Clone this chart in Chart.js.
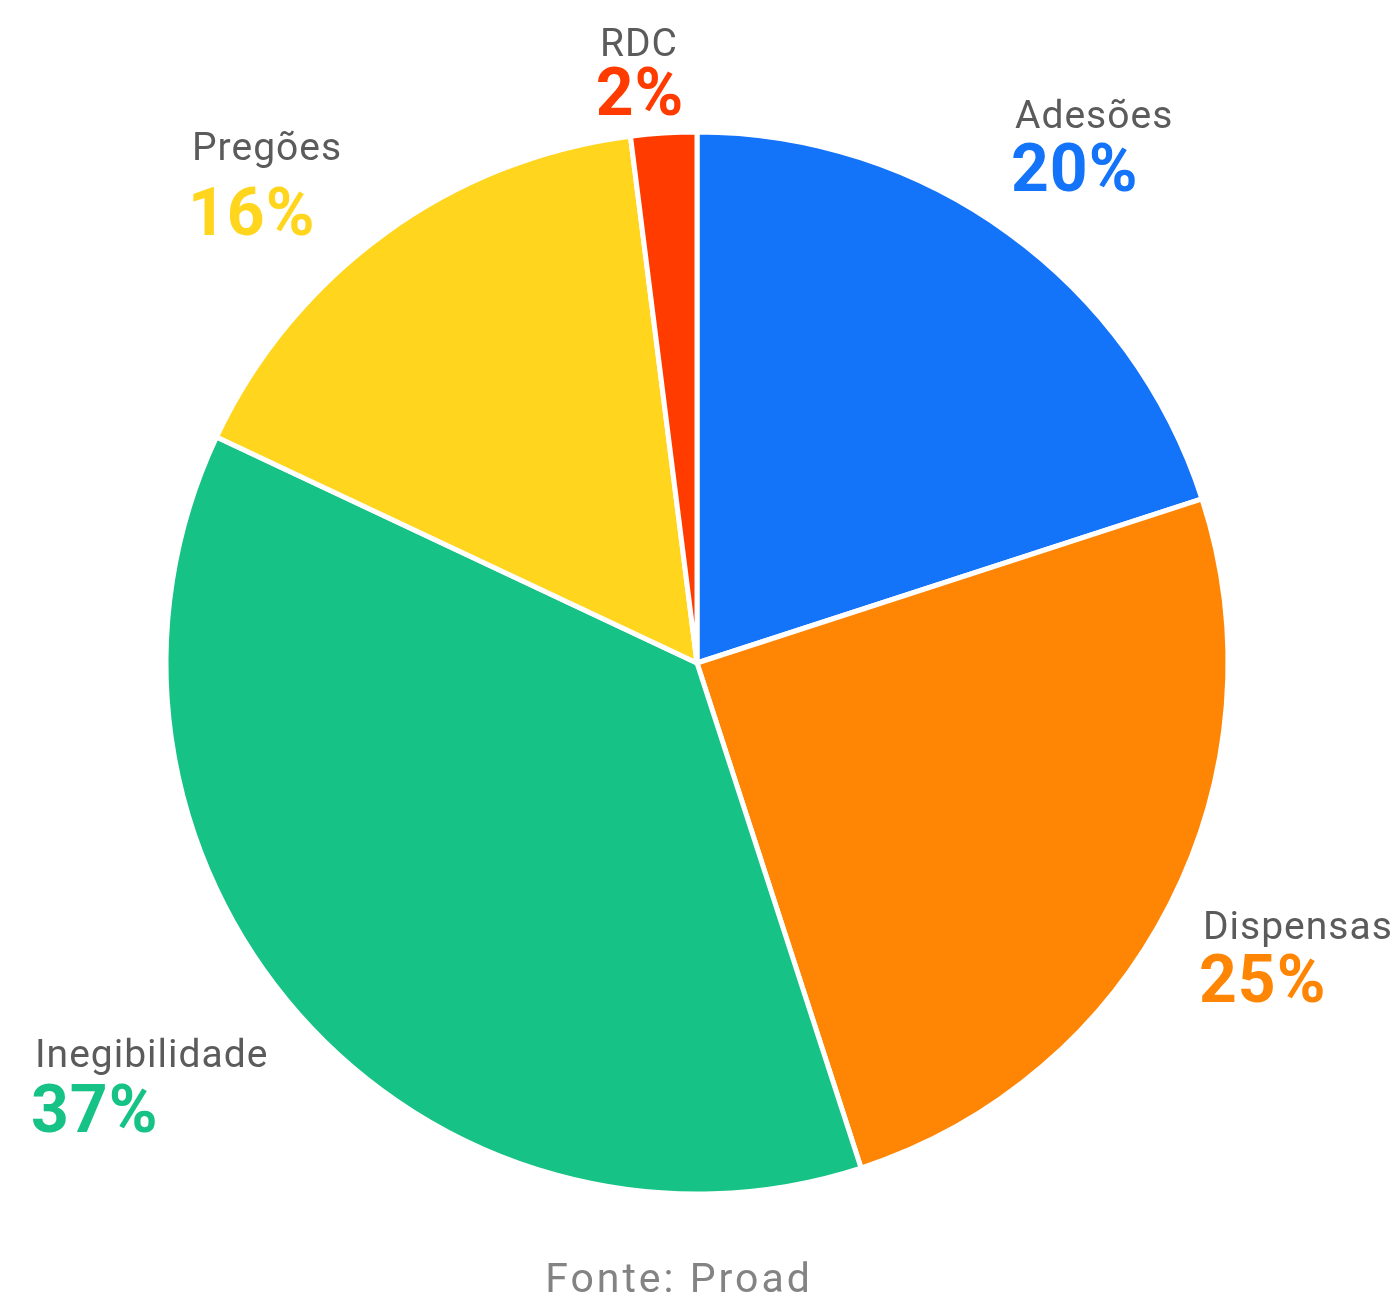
<!DOCTYPE html>
<html lang="pt-BR">
<head>
<meta charset="utf-8">
<title>Modalidades de contratação</title>
<script src="https://cdn.jsdelivr.net/npm/chart.js@4.4.1/dist/chart.umd.min.js"></script>
<style>
  html, body { margin: 0; padding: 0; background: #ffffff; }
  #wrap { position: relative; width: 1398px; height: 1297px; }
</style>
</head>
<body>
<div id="wrap"><canvas id="pieChart" width="1398" height="1297"></canvas></div>
<script>
'use strict';

// slices, clockwise from 12 o'clock
var categorias = ['Adesões', 'Dispensas', 'Inegibilidade', 'Pregões', 'RDC'];
var percentuais = [20, 25, 37, 16, 2];
var cores = ['#1373f9', '#ff8505', '#16c285', '#ffd51e', '#ff3b00'];
var fonte = 'Fonte: Proad';

// where each label block sits: x, baseline of the name, gap down to the % line
var posRotulos = [
  { x: 1015, y: 128,  gap: 63, align: 'left' },
  { x: 1203, y: 939,  gap: 63, align: 'left' },
  { x: 35,   y: 1067, gap: 65, align: 'left' },
  { x: 192,  y: 160,  gap: 75, align: 'left' },
  { x: 639,  y: 56,   gap: 59, align: 'center' }
];

var rotulosPlugin = {
  id: 'rotulos',
  afterDatasetsDraw: function (chart) {
    var ctx = chart.ctx;
    var temEspaco = 'letterSpacing' in ctx;
    ctx.save();
    ctx.textBaseline = 'alphabetic';
    chart.data.labels.forEach(function (nome, i) {
      var p = posRotulos[i];
      ctx.textAlign = p.align;
      ctx.fillStyle = '#5b5b5b';
      ctx.font = '39px Roboto';
      if (temEspaco) ctx.letterSpacing = '1px';
      ctx.fillText(nome, p.x, p.y);
      ctx.fillStyle = cores[i];
      ctx.font = 'bold 66px Roboto';
      ctx.fillText(chart.data.datasets[0].data[i] + '%', p.x + (p.align === 'left' ? -4 : 1), p.y + p.gap);
    });

    // source line
    ctx.textAlign = 'center';
    ctx.fillStyle = '#838383';
    ctx.font = '41px Roboto';
    if (temEspaco) ctx.letterSpacing = '3px';
    ctx.fillText(fonte, 679, 1292);
    ctx.restore();
  }
};

var pieCanvas = document.getElementById('pieChart').getContext('2d');

new Chart(pieCanvas, {
  type: 'pie',
  data: {
    labels: categorias,
    datasets: [{
      data: percentuais,
      backgroundColor: cores,
      borderColor: '#ffffff',
      borderWidth: 5,
      hoverOffset: 0
    }]
  },
  options: {
    responsive: false,
    animation: false,
    radius: 531,
    layout: { padding: { left: 0, right: 4, top: 29, bottom: 0 } },
    plugins: {
      legend: { display: false },
      tooltip: { enabled: false }
    }
  },
  plugins: [rotulosPlugin]
});
</script>
</body>
</html>
